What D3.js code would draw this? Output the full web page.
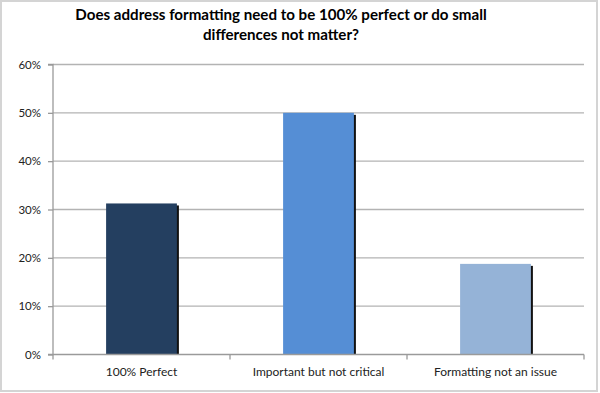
<!DOCTYPE html>
<html><head><meta charset="utf-8">
<script src="https://cdn.jsdelivr.net/npm/d3@7"></script>
<style>body{margin:0;background:#fff}svg{display:block}</style>
</head><body><svg id="c" width="600" height="393"></svg>
<script>
const categories = ["100% Perfect", "Important but not critical", "Formatting not an issue"];
const values = [0.3125, 0.50, 0.1875];
const colors = ["#243F60", "#558ED5", "#95B3D7"];
const yTicks = [0, 0.1, 0.2, 0.3, 0.4, 0.5, 0.6];
const titleLines = ["Does address formatting need to be 100% perfect or do small", "differences not matter?"];

(function(){
const svg = d3.select("#c");
const font = "Lato, 'Open Sans', sans-serif";
svg.append("rect").attr("x",1).attr("y",1).attr("width",596).attr("height",390)
  .attr("fill","#fff").attr("stroke","#d4d4d4").attr("stroke-width",2);

const pL = 53, pR = 584, pT = 64.5, pB = 354.5;
const x = d3.scaleBand().domain(categories).range([pL, pR]).paddingInner(0).paddingOuter(0);
const y = d3.scaleLinear().domain([0, 0.6]).range([pB, pT]);

// gridlines
svg.append("g").selectAll("line").data(yTicks.filter(d=>d>0)).join("line")
  .attr("x1", pL).attr("x2", pR).attr("y1", d=>y(d)).attr("y2", d=>y(d))
  .attr("stroke", "#b3b3b3").attr("stroke-width", 1.3);

// bars
const bw = x.bandwidth()*0.4;
const bars = svg.append("g");
bars.selectAll("rect.s").data(categories).join("rect").attr("class","s")
  .attr("x", d=>x(d)+x.bandwidth()/2-bw/2+2).attr("y", (d,i)=>y(values[i])+2)
  .attr("width", bw).attr("height", (d,i)=>pB-y(values[i])-2).attr("fill","#111");
bars.selectAll("rect.b").data(categories).join("rect").attr("class","b")
  .attr("x", d=>x(d)+x.bandwidth()/2-bw/2).attr("y", (d,i)=>y(values[i]))
  .attr("width", bw).attr("height", (d,i)=>pB-y(values[i])).attr("fill",(d,i)=>colors[i]);

// y axis
const ya = svg.append("g").attr("transform",`translate(${pL},0)`)
  .call(d3.axisLeft(y).tickValues(yTicks).tickFormat(d3.format(".0%")).tickSize(5).tickPadding(7));
ya.select(".domain").attr("stroke","#9a9a9a").attr("stroke-width",1.3).attr("d",`M-5,${pT}H0V${pB}H-5`);
ya.selectAll(".tick line").attr("stroke","#9a9a9a").attr("stroke-width",1.3);
ya.selectAll("text").attr("font-family",font).attr("font-size",11.5).attr("fill","#222");

// x axis
const xa = svg.append("g").attr("transform",`translate(0,${pB})`)
  .call(d3.axisBottom(x).tickSize(0).tickPadding(13));
xa.select(".domain").attr("stroke","#9a9a9a").attr("stroke-width",1.3).attr("d",`M${pL},0H${pR}`);
xa.selectAll("text").attr("font-family",font).attr("font-size",12).attr("fill","#222");
svg.append("g").selectAll("line").data([pL, ...categories.map(c=>x(c)+x.bandwidth())]).join("line")
  .attr("x1",d=>d).attr("x2",d=>d).attr("y1",pB).attr("y2",pB+5)
  .attr("stroke","#9a9a9a").attr("stroke-width",1.3);

// title
const t = svg.append("g");
titleLines.forEach((s,i)=>{
  t.append("text").attr("x",281).attr("y",20+i*19.5).attr("text-anchor","middle")
   .attr("font-family",font).attr("font-weight","bold").attr("font-size",14.5).attr("fill","#000").text(s);
});
const w = t.select("text").node().getComputedTextLength();
const fs = 14.5*412/w;
t.selectAll("text").attr("font-size", Math.min(fs, 16));
})();
</script></body></html>
